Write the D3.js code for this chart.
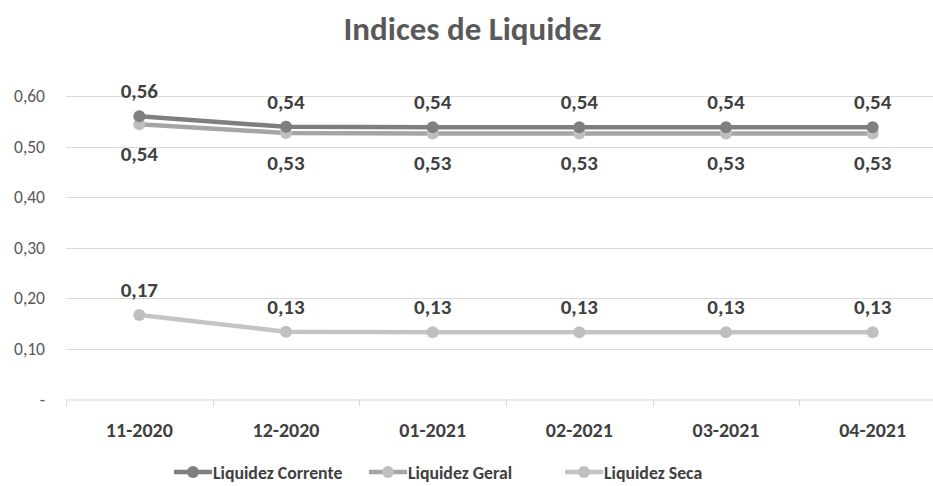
<!DOCTYPE html>
<html>
<head>
<meta charset="utf-8">
<script src="https://cdn.jsdelivr.net/npm/d3@7"></script>
<style>
  body { margin: 0; background: #fff; }
  text { font-family: Carlito, Calibri, "Open Sans", sans-serif; }
</style>
</head>
<body>
<div id="chart"></div>
<script>
// data
var months   = ["11-2020", "12-2020", "01-2021", "02-2021", "03-2021", "04-2021"];
var corrente = [0.560, 0.539, 0.538, 0.538, 0.538, 0.538];
var geral    = [0.544, 0.527, 0.526, 0.526, 0.526, 0.526];
var seca     = [0.167, 0.134, 0.133, 0.133, 0.133, 0.133];
var yTicks   = [0, 0.1, 0.2, 0.3, 0.4, 0.5, 0.6];
var seriesNames = ["Liquidez Corrente", "Liquidez Geral", "Liquidez Seca"];

var W = 933, H = 486;

var pt = d3.formatLocale({decimal: ",", thousands: ".", grouping: [3], currency: ["", ""]});
var fmt = pt.format(".2f");

var series = [
  {name: seriesNames[0], values: corrente, line: "#7f7f7f", dot: "#7f7f7f", label: "above"},
  {name: seriesNames[1], values: geral,    line: "#a5a5a5", dot: "#bfbfbf", label: "below"},
  {name: seriesNames[2], values: seca,     line: "#c4c4c4", dot: "#bfbfbf", label: "above"}
];

var svg = d3.select("#chart").append("svg")
    .attr("width", W)
    .attr("height", H);

// x spans past the right edge, like the cropped original
var x = d3.scaleBand().domain(months).range([66, 946]);
var y = d3.scaleLinear().domain([0, 0.6]).range([399.5, 96]);

// title
svg.append("text")
    .attr("x", W / 2 + 6)
    .attr("y", 40)
    .attr("text-anchor", "middle")
    .attr("font-size", 33)
    .attr("font-weight", "bold")
    .attr("fill", "#595959")
    .text("Indices de Liquidez");

// gridlines
svg.append("g").selectAll("line")
    .data(yTicks.filter(function(d){ return d > 0; }))
    .enter().append("line")
    .attr("x1", 66).attr("x2", 946)
    .attr("y1", function(d){ return Math.round(y(d)) + 0.5; })
    .attr("y2", function(d){ return Math.round(y(d)) + 0.5; })
    .attr("stroke", "#d9d9d9")
    .attr("stroke-width", 1);

// y labels
svg.append("g").selectAll("text")
    .data(yTicks)
    .enter().append("text")
    .attr("x", 45)
    .attr("y", function(d){ return y(d) + 6; })
    .attr("text-anchor", "end")
    .attr("font-size", 17.5)
    .attr("fill", "#595959")
    .text(function(d){ return d === 0 ? "-" : fmt(d); });

// x axis
var xAxis = d3.axisBottom(x).tickSize(0).tickPadding(23);
var gx = svg.append("g")
    .attr("transform", "translate(0," + (Math.round(y(0)) - 0.5) + ")")
    .call(xAxis);
gx.select(".domain").attr("stroke", "#d9d9d9");
gx.selectAll("text")
    .attr("font-family", null)
    .attr("font-size", 20)
    .attr("font-weight", "bold")
    .attr("fill", "#404040");
// boundary ticks between categories
gx.selectAll(".bound")
    .data(months.concat(["end"]))
    .enter().append("line")
    .attr("class", "bound")
    .attr("x1", function(d, i){ return Math.round(66 + i * x.step()) + 0.5; })
    .attr("x2", function(d, i){ return Math.round(66 + i * x.step()) + 0.5; })
    .attr("y1", 0).attr("y2", 7)
    .attr("stroke", "#d9d9d9");

var cx = function(d, i){ return x(months[i]) + x.bandwidth() / 2; };
var line = d3.line()
    .x(cx)
    .y(function(d){ return y(d); });

// draw seca first, then geral, then corrente on top
series.slice().reverse().forEach(function(s){
  var g = svg.append("g");
  g.append("path")
    .datum(s.values)
    .attr("d", line)
    .attr("fill", "none")
    .attr("stroke", s.line)
    .attr("stroke-width", 4.5)
    .attr("stroke-linejoin", "round");
  g.selectAll("circle")
    .data(s.values)
    .enter().append("circle")
    .attr("cx", cx)
    .attr("cy", function(d){ return y(d); })
    .attr("r", 6)
    .attr("fill", s.dot);
});

// data labels
series.forEach(function(s){
  svg.append("g").selectAll("text")
    .data(s.values)
    .enter().append("text")
    .attr("x", cx)
    .attr("y", function(d){ return s.label === "above" ? y(d) - 18 : y(d) + 37; })
    .attr("text-anchor", "middle")
    .attr("font-size", 21)
    .attr("font-weight", "bold")
    .attr("fill", "#404040")
    .text(function(d){ return fmt(d); });
});

// legend
var legX = [174, 369, 565];
var leg = svg.append("g").selectAll("g")
    .data(series)
    .enter().append("g")
    .attr("transform", function(d, i){ return "translate(" + legX[i] + ",472)"; });
leg.append("line")
    .attr("x1", 0).attr("x2", 38)
    .attr("stroke", function(d){ return d.line; })
    .attr("stroke-width", 4.5);
leg.append("circle")
    .attr("cx", 19).attr("r", 6)
    .attr("fill", function(d){ return d.dot; });
leg.append("text")
    .attr("x", 39)
    .attr("y", 6.5)
    .attr("font-size", 17.8)
    .attr("font-weight", "bold")
    .attr("fill", "#404040")
    .text(function(d){ return d.name; });
</script>
</body>
</html>
